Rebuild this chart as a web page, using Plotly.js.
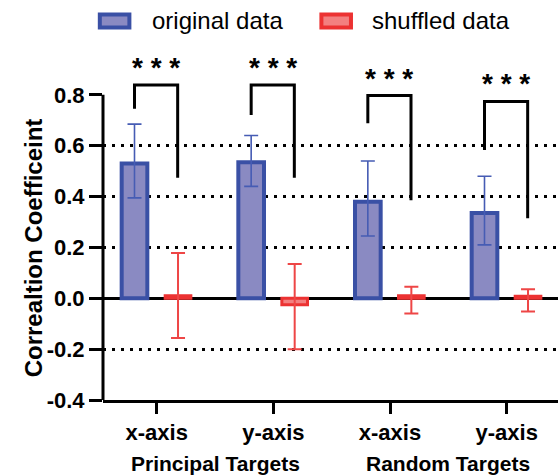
<!DOCTYPE html>
<html>
<head>
<meta charset="utf-8">
<script src="https://cdn.plot.ly/plotly-3.0.1.min.js"></script>
<style>html,body{margin:0;padding:0;background:#fff;}#chart{width:558px;height:475px;}</style>
</head>
<body>
<div id="chart"></div>
<script>
// ---- data ----
var categories = ['x-axis', 'y-axis', 'x-axis', 'y-axis'];
var groupLabels = ['Principal Targets', 'Random Targets'];
var originalValues = [0.53, 0.535, 0.38, 0.335];
var originalErrPlus = [0.155, 0.105, 0.16, 0.145];
var originalErrMinus = [0.135, 0.095, 0.135, 0.125];
var shuffledValues = [0.01, -0.025, 0.01, 0.008];
var shuffledErrPlus = [0.168, 0.16, 0.035, 0.028];
var shuffledErrMinus = [0.166, 0.175, 0.07, 0.06];
var bracketTop = [0.839, 0.839, 0.797, 0.774];
var bracketLeftEnd = [0.745, 0.721, 0.688, 0.583];
var bracketRightEnd = [0.474, 0.474, 0.386, 0.315];
var significance = ['* * *', '* * *', '* * *', '* * *'];
var yTicks = [-0.4, -0.2, 0.0, 0.2, 0.4, 0.6, 0.8];
var yTickText = ['-0.4', '-0.2', '0.0', '0.2', '0.4', '0.6', '0.8'];
var gridVals = [-0.2, 0.2, 0.4, 0.6];
var yTitle = 'Correaltion Coefficeint';

var FONT = 'Liberation Sans, Arial, sans-serif';
var BLUE_LINE = 'rgb(58,80,165)', BLUE_FILL = 'rgb(138,138,194)';
var RED_LINE = 'rgb(236,50,50)', RED_FILL = 'rgb(243,128,128)';

var xIdx = categories.map(function (c, i) { return i; });
var barW = 0.22;

var traces = [
  {
    type: 'bar', name: 'original data', x: xIdx, y: originalValues,
    width: barW, offset: -0.30,
    marker: { color: BLUE_FILL, line: { color: BLUE_LINE, width: 4 } },
    error_y: { type: 'data', symmetric: false, array: originalErrPlus, arrayminus: originalErrMinus,
               color: 'rgb(70,92,180)', thickness: 1.6, width: 7 },
    showlegend: false
  },
  {
    type: 'bar', name: 'shuffled data', x: xIdx, y: shuffledValues,
    width: barW, offset: 0.073,
    marker: { color: RED_FILL, line: { color: RED_LINE, width: 3 } },
    error_y: { type: 'data', symmetric: false, array: shuffledErrPlus, arrayminus: shuffledErrMinus,
               color: 'rgb(238,70,70)', thickness: 2, width: 7 },
    showlegend: false
  },
  // invisible trace to activate the gridline overlay axis
  { type: 'scatter', x: [0], y: [0], yaxis: 'y2', mode: 'markers', marker: { opacity: 0 },
    hoverinfo: 'skip', showlegend: false }
];

var shapes = [];
var annotations = [];
var legOff = -0.19, rightOff = 0.18;
for (var i = 0; i < categories.length; i++) {
  var xl = i + legOff, xr = i + rightOff;
  shapes.push({
    type: 'path', xref: 'x', yref: 'y',
    path: 'M' + xl + ',' + bracketLeftEnd[i] + ' L' + xl + ',' + bracketTop[i] +
          ' L' + xr + ',' + bracketTop[i] + ' L' + xr + ',' + bracketRightEnd[i],
    line: { color: 'black', width: 3 }
  });
  annotations.push({
    x: (xl + xr) / 2, y: bracketTop[i], xref: 'x', yref: 'y', yanchor: 'bottom',
    text: '<b>' + significance[i] + '</b>', showarrow: false,
    font: { family: FONT, size: 28, color: 'black' }, yshift: 0
  });
}
// y axis line (only spans the ticked range)
shapes.push({ type: 'line', xref: 'paper', yref: 'y', x0: 0, x1: 0,
  y0: yTicks[0], y1: yTicks[yTicks.length - 1], line: { color: 'black', width: 3 } });

// y axis title, centred on the ticked range
annotations.push({
  x: -0.154, y: (yTicks[0] + yTicks[yTicks.length - 1]) / 2, xref: 'paper', yref: 'y',
  xanchor: 'center', yanchor: 'middle', textangle: -90,
  text: '<b>' + yTitle + '</b>', showarrow: false,
  font: { family: FONT, size: 24, color: 'black' }
});

// group labels
groupLabels.forEach(function (g, k) {
  annotations.push({
    x: 2 * k + 0.5, y: -0.177, xref: 'x', yref: 'paper', yanchor: 'middle',
    text: '<b>' + g + '</b>', showarrow: false,
    font: { family: FONT, size: 21, color: 'black' }
  });
});

// custom legend
var legendItems = [
  { name: 'original data', line: BLUE_LINE, fill: BLUE_FILL, x0: -0.007, x1: 0.058, tx: 0.103 },
  { name: 'shuffled data', line: RED_LINE, fill: RED_FILL, x0: 0.480, x1: 0.545, tx: 0.587 }
];
legendItems.forEach(function (it) {
  shapes.push({ type: 'rect', xref: 'paper', yref: 'paper', x0: it.x0, x1: it.x1, y0: 1.046, y1: 1.083,
    fillcolor: it.fill, line: { color: it.line, width: 4 } });
  annotations.push({ x: it.tx, y: 1.065, xref: 'paper', yref: 'paper', xanchor: 'left', yanchor: 'middle',
    text: it.name, showarrow: false, font: { family: FONT, size: 24, color: 'black' } });
});

var layout = {
  width: 558, height: 475,
  margin: { l: 103, r: 0, t: 44, b: 75 },
  paper_bgcolor: 'white', plot_bgcolor: 'white',
  barmode: 'group',
  showlegend: false,
  font: { family: FONT, color: 'black' },
  xaxis: {
    range: [-0.46, 3.44], tickvals: xIdx, ticktext: categories,
    showline: true, linecolor: 'black', linewidth: 3,
    ticks: 'outside', ticklen: 11, tickwidth: 3, tickcolor: 'black',
    tickfont: { family: FONT, size: 22, color: 'black', weight: 'bold' },
    showgrid: false, zeroline: false, fixedrange: true
  },
  yaxis: {
    range: [-0.4, 1.0], tickvals: yTicks, ticktext: yTickText,
    ticks: 'outside', ticklen: 13, tickwidth: 3, tickcolor: 'black',
    tickfont: { family: FONT, size: 22, color: 'black', weight: 'bold' },
    showline: false, showgrid: false,
    zeroline: true, zerolinecolor: 'black', zerolinewidth: 3,
    fixedrange: true
  },
  yaxis2: {
    overlaying: 'y', side: 'left', range: [-0.4, 1.0], tickvals: gridVals,
    showticklabels: false, ticks: '', showline: false, zeroline: false,
    showgrid: true, gridcolor: 'black', gridwidth: 3, griddash: '3px,6px', fixedrange: true
  },
  shapes: shapes,
  annotations: annotations
};

Plotly.newPlot('chart', traces, layout, { displayModeBar: false, staticPlot: true });
</script>
</body>
</html>
